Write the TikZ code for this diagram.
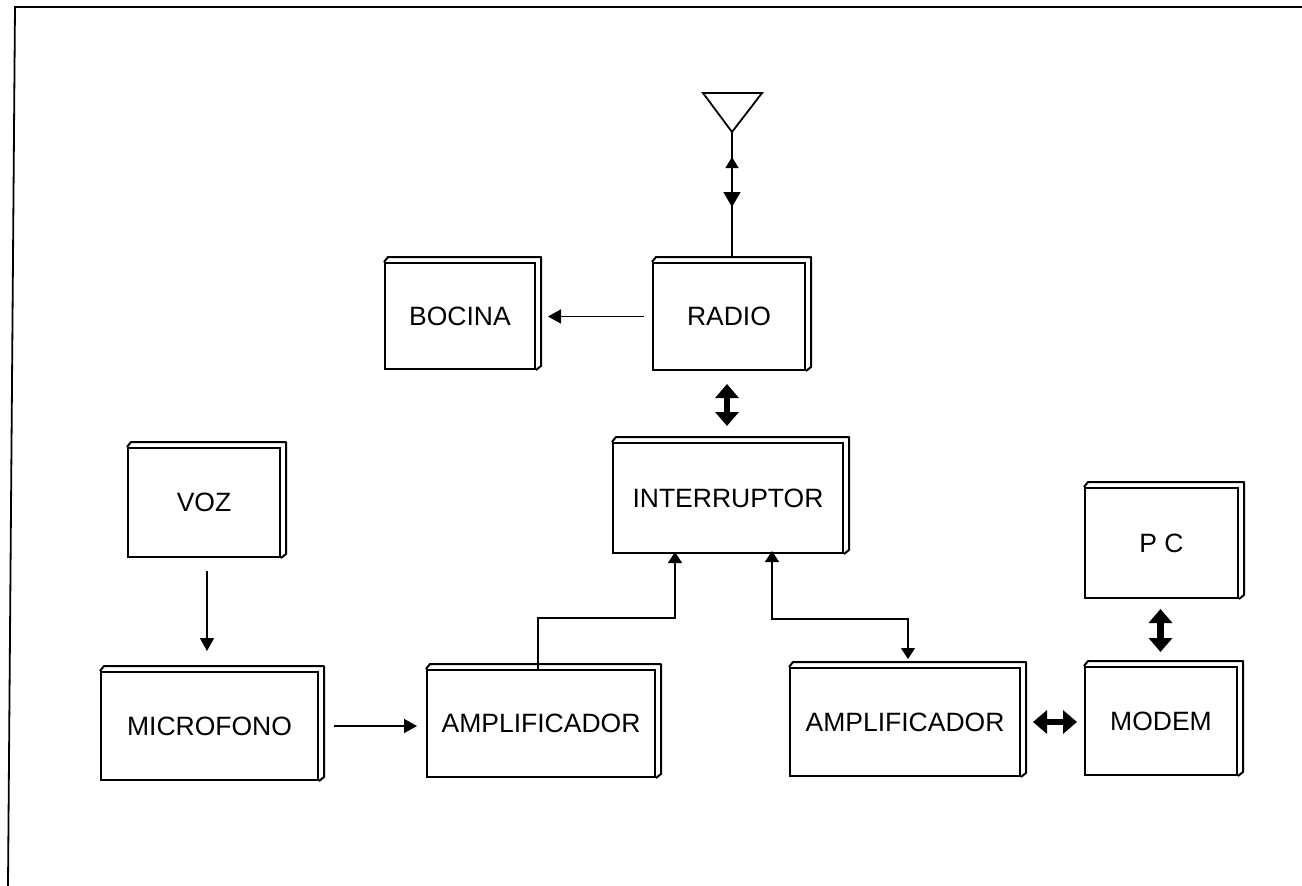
\documentclass[tikz,border=0pt]{standalone}
\usepackage{fontspec}
\setmainfont{Liberation Sans}
\usetikzlibrary{arrows.meta,decorations.markings}
\begin{document}
\begin{tikzpicture}[x=1pt,y=-1pt,
  blk/.style={draw, line width=2pt, inner sep=0pt,
    font=\fontsize{26.5}{31}\selectfont},
  bevel/.style={line width=2pt, line join=round},
  wire/.style={line width=1.6pt},
  thinarrow/.style={wire, -{Triangle[width=14pt,length=13pt]}},
  smallarrow/.style={wire, -{Triangle[width=14pt,length=11pt]}},
  fatarrow/.style={line width=6.5pt, {Triangle[width=23pt,length=14pt]}-{Triangle[width=23pt,length=14pt]}},
]
\useasboundingbox (0,0) rectangle (1302,886);

% page frame
\draw[line width=1.8pt] (8,886) -- (15,7) -- (1302,7);

% blocks
\node[blk, minimum width=150pt, minimum height=106pt] (bocina) at (460,316) {BOCINA};
\node[blk, minimum width=152pt, minimum height=107pt] (radio) at (729,316.5) {RADIO};
\node[blk, minimum width=230pt, minimum height=110pt] (interruptor) at (728,498) {INTERRUPTOR};
\node[blk, minimum width=152pt, minimum height=109pt] (voz) at (204,502.5) {VOZ};
\node[blk, minimum width=217pt, minimum height=108pt] (mic) at (209.5,726) {MICROFONO};
\node[blk, minimum width=228pt, minimum height=107pt] (amp1) at (541,723.5) {AMPLIFICADOR};
\node[blk, minimum width=230pt, minimum height=108pt] (amp2) at (905,722) {AMPLIFICADOR};
\node[blk, minimum width=152pt, minimum height=108pt] (modem) at (1161,721) {MODEM};
\node[blk, minimum width=153pt, minimum height=110pt] (pc) at (1161.5,543) {P C};

% raised top and right edges of every block
\foreach \n in {bocina,radio,interruptor,voz,mic,amp1,amp2,modem,pc}
  \draw[bevel] (\n.north west) -- ++(4pt,5pt)
    -- ([shift={(5pt,5pt)}]\n.north east)
    -- ([shift={(5pt,4pt)}]\n.south east) -- (\n.south east);

% antenna
\draw[line width=1.8pt, line join=miter] (703,93) -- (762,93) -- (732,132) -- cycle;
\coordinate (ant) at (732,132);
\draw[wire, postaction={decorate}, decoration={markings,
    mark=at position 0.2 with {\arrowreversed{Triangle[width=13pt,length=11pt]}},
    mark=at position 0.6 with {\arrow{Triangle[width=17pt,length=15pt]}}}]
  (ant) -- ([yshift=5pt]radio.north -| ant);

% signal paths
\draw[thinarrow, shorten <=8pt, shorten >=12pt] (radio.west) -- (radio.west -| bocina.east);
\draw[fatarrow, shorten <=13pt, shorten >=16pt] ([xshift=-2pt]radio.south) -- ([xshift=-2pt]radio.south |- interruptor.north);
\draw[thinarrow, shorten <=13pt, shorten >=20pt] ([xshift=3pt]voz.south) -- ([xshift=3pt]voz.south |- mic.north);
\draw[thinarrow, shorten <=15pt, shorten >=9pt] (mic.east) -- (mic.east -| amp1.west);
\draw[smallarrow, shorten >=-2pt] ([xshift=-3pt]amp1.north) -- ++(0,-51) -| ([xshift=-53pt]interruptor.south);
\draw[smallarrow, {Triangle[width=14pt,length=11pt]}-{Triangle[width=14pt,length=11pt]}, shorten <=-3pt, shorten >=3pt]
  ([xshift=44pt]interruptor.south) -- ++(0,65) -| ([shift={(3pt,5pt)}]amp2.north);
\draw[fatarrow, shorten <=12pt, shorten >=7pt] (amp2.east) -- (amp2.east -| modem.west);
\draw[fatarrow, shorten <=10pt, shorten >=14pt] ([xshift=-1pt]pc.south) -- ([xshift=-1pt]pc.south |- modem.north);
\end{tikzpicture}
\end{document}
